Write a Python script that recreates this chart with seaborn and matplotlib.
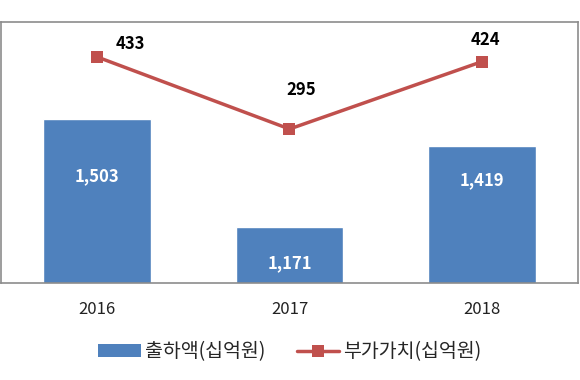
import numpy as np
import pandas as pd

import matplotlib
matplotlib.use('Agg')

import matplotlib.pyplot as plt
import seaborn as sns
from matplotlib.patches import Patch
from matplotlib.lines import Line2D


# =========================================================
# DATA
# =========================================================

years = ['2016', '2017', '2018']
shipments = [1503, 1171, 1419]      # 출하액(십억원)
value_added = [433, 295, 424]       # 부가가치(십억원)

BAR_LABEL = '출하액(십억원)'
LINE_LABEL = '부가가치(십억원)'

df = pd.DataFrame({
    'year': years,
    'shipments': shipments,
    'value_added': value_added
})


# =========================================================
# STYLE
# =========================================================

BAR_COLOR = '#4F81BD'
LINE_COLOR = '#C0504D'

sns.set_theme(style='white')
plt.rcParams['font.family'] = ['Noto Sans CJK KR', 'DejaVu Sans']


# =========================================================
# FIGURE
# =========================================================

fig = plt.figure(figsize=(5.8, 3.8), dpi=100)
ax = fig.add_axes([1 / 580, 97 / 380, 577 / 580, 261 / 380])

sns.barplot(
    data=df,
    x='year',
    y='shipments',
    color=BAR_COLOR,
    saturation=1,
    width=0.56,
    ax=ax
)

ax.set_ylim(1000, 1800)
ax.set_xlim(-0.5, 2.5)
ax.set_yticks([])
ax.set_xlabel('')
ax.set_ylabel('')
ax.tick_params(axis='x', length=0, labelsize=12, pad=13, colors='#222222')

for spine in ax.spines.values():
    spine.set_color('#8c8c8c')
    spine.set_linewidth(1.2)

# label height as fraction of the visible bar
bar_label_pos = [0.65, 0.36, 0.75]
for i, v in enumerate(shipments):
    ax.text(
        i,
        1000 + (v - 1000) * bar_label_pos[i],
        f'{v:,}',
        ha='center',
        va='center',
        color='white',
        fontsize=12,
        fontweight='bold'
    )


# =========================================================
# LINE (SECONDARY AXIS)
# =========================================================

ax2 = ax.twinx()

sns.lineplot(
    data=df,
    x='year',
    y='value_added',
    color=LINE_COLOR,
    linewidth=2.5,
    marker='s',
    markersize=9,
    markeredgewidth=0,
    sort=False,
    ax=ax2
)

ax2.set_ylim(0, 500)
ax2.set_yticks([])
ax2.set_ylabel('')
ax2.set_xlim(-0.5, 2.5)
for spine in ax2.spines.values():
    spine.set_visible(False)

offsets = [(0.17, 25), (0.06, 75), (0.02, 42)]
for i, v in enumerate(value_added):
    dx, dy = offsets[i]
    ax2.text(
        i + dx,
        v + dy,
        str(v),
        ha='center',
        va='center',
        color='black',
        fontsize=12,
        fontweight='bold'
    )


# =========================================================
# LEGEND
# =========================================================

handles = [
    Patch(facecolor=BAR_COLOR, edgecolor='none'),
    Line2D([0], [0], color=LINE_COLOR, linewidth=2.5,
           marker='s', markersize=8, markeredgewidth=0)
]

fig.legend(
    handles,
    [BAR_LABEL, LINE_LABEL],
    loc='center',
    bbox_to_anchor=(0.5, 28 / 380),
    ncol=2,
    frameon=False,
    fontsize=14,
    handlelength=2.2,
    handleheight=0.6,
    handletextpad=0.2,
    columnspacing=1.6
)

fig.savefig('out.png', dpi=100)
plt.close(fig)
